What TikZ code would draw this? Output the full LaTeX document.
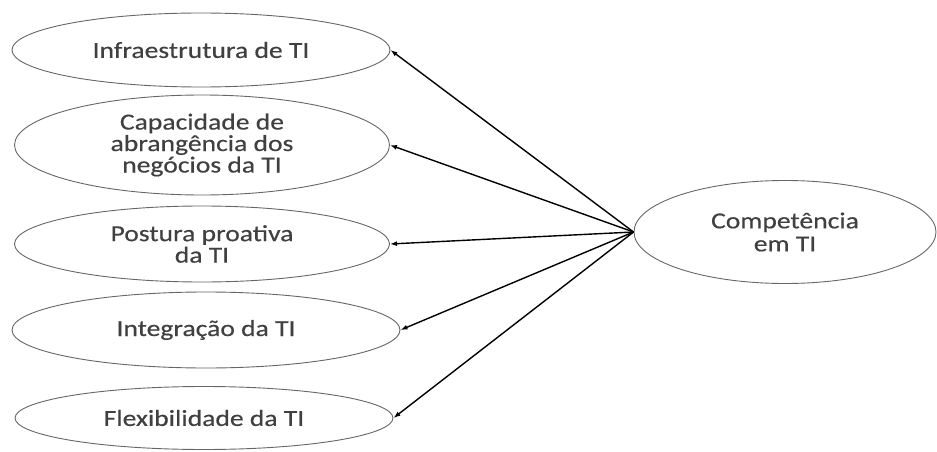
\documentclass[tikz,border=0pt]{standalone}
\usepackage{fontspec}
\setmainfont{Carlito}[FakeStretch=1.2,FakeBold=0.4]
\usetikzlibrary{shapes,arrows.meta}

\begin{document}
\begin{tikzpicture}[x=1pt,y=-1pt,
    dim/.style={draw=black!60,line width=0.9pt,ellipse,inner sep=0pt,align=center,
      text=black!75,font=\fontsize{23}{21.5}\selectfont},
    seta/.style={line width=1.4pt,-{Latex[length=7pt,width=5pt]}}]
  \useasboundingbox (0,0) rectangle (937,452);
  \node[dim,minimum width=378pt,minimum height=74pt] (infra) at (201,50) {Infraestrutura de TI};
  \node[dim,minimum width=375pt,minimum height=100pt] (capac) at (202,145) {Capacidade de\\abrangência dos\\negócios da TI};
  \node[dim,minimum width=375pt,minimum height=76pt] (postura) at (202,244) {Postura proativa\\da TI};
  \node[dim,minimum width=388pt,minimum height=76pt] (integr) at (206,330) {Integração da TI};
  \node[dim,minimum width=378pt,minimum height=63pt] (flex) at (204,418) {Flexibilidade da TI};
  \node[dim,minimum width=302pt,minimum height=103pt,font=\fontsize{23}{23}\selectfont] (comp) at (785,232) {Competência\\em TI};
  \foreach \d in {infra,capac,postura,integr,flex}
    \draw[seta] (comp.west) -- (\d.east);
\end{tikzpicture}
\end{document}
